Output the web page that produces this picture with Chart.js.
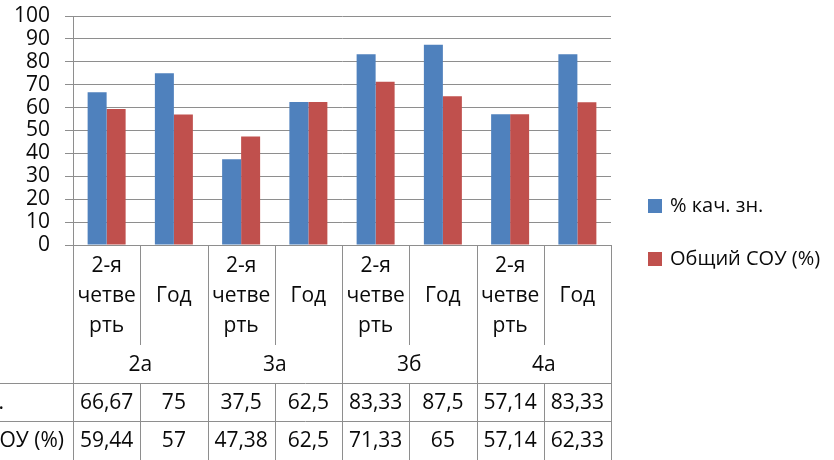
<!DOCTYPE html>
<html>
<head>
<meta charset="utf-8">
<script src="https://cdn.jsdelivr.net/npm/chart.js@4"></script>
<style>
html,body{margin:0;padding:0;background:#fff;}
#wrap{width:834px;height:460px;position:relative;}
</style>
</head>
<body>
<div id="wrap"><canvas id="c" width="834" height="460"></canvas></div>
<script>
// ---- data ----
const groups = ['2а', '3а', '3б', '4а'];
const periodLines = [['2-я', 'четве', 'рть'], ['Год']];
const seriesNames = ['% кач. зн.', 'Общий СОУ (%)'];
const quality = [66.67, 75, 37.5, 62.5, 83.33, 87.5, 57.14, 83.33];
const sou = [59.44, 57, 47.38, 62.5, 71.33, 65, 57.14, 62.33];
const yTicks = [0, 10, 20, 30, 40, 50, 60, 70, 80, 90, 100];

const colors = ['#4F81BD', '#C0504D'];
const FONT = '"Open Sans", "DejaVu Sans", sans-serif';
const TXT = '#0a0a0a';
const LINE = '#8e8e8e';

const categories = [];
groups.forEach(g => periodLines.forEach(p => categories.push(g + ' ' + p.join(''))));

const fmt = v => String(v).replace('.', ',');

const tablePlugin = {
  id: 'tablePlugin',
  afterDraw(chart) {
    const ctx = chart.ctx;
    const x = chart.scales.x;
    const area = chart.chartArea;
    const n = categories.length;
    const w = (area.right - area.left) / n;
    const edge = i => x.getPixelForValue(i) - w / 2;
    const top = area.bottom;
    const subEnd = top + 100;
    const hLine1 = top + 138;
    const hLine2 = top + 176;
    const bottom = 460;
    ctx.save();
    ctx.strokeStyle = LINE;
    ctx.lineWidth = 1;
    const line = (x1, y1, x2, y2) => {
      ctx.beginPath(); ctx.moveTo(x1, y1); ctx.lineTo(x2, y2); ctx.stroke();
    };
    for (let i = 0; i <= n; i++) {
      const px = Math.round(edge(i)) + 0.5;
      if (i % periodLines.length === 0) {
        line(px, top, px, bottom);
      } else {
        line(px, top, px, subEnd);
        line(px, hLine1, px, bottom);
      }
    }
    line(0, Math.round(hLine1) + 0.5, area.right, Math.round(hLine1) + 0.5);
    line(0, Math.round(hLine2) + 0.5, area.right, Math.round(hLine2) + 0.5);

    ctx.fillStyle = TXT;
    ctx.font = '21px ' + FONT;
    ctx.textAlign = 'center';
    ctx.textBaseline = 'middle';
    // period labels
    for (let i = 0; i < n; i++) {
      const cx = x.getPixelForValue(i);
      const lines = periodLines[i % periodLines.length];
      if (lines.length === 1) {
        ctx.fillText(lines[0], cx, top + 51);
      } else {
        lines.forEach((t, k) => ctx.fillText(t, cx, top + 21 + k * 30));
      }
    }
    // group labels
    groups.forEach((g, gi) => {
      const a = edge(gi * periodLines.length);
      const b = edge((gi + 1) * periodLines.length);
      ctx.fillText(g, (a + b) / 2, top + 120);
    });
    // values
    [quality, sou].forEach((arr, r) => {
      const yy = r === 0 ? top + 158 : top + 196;
      arr.forEach((v, i) => ctx.fillText(fmt(v), x.getPixelForValue(i), yy));
    });
    // row headers (clipped at left)
    ctx.textAlign = 'right';
    ctx.fillText(seriesNames[0], 4, top + 158);
    ctx.fillText(seriesNames[1], area.left - 9, top + 196);

    // legend
    ctx.font = '20px ' + FONT;
    ctx.textAlign = 'left';
    seriesNames.forEach((s, k) => {
      const cy = 206 + k * 53;
      ctx.fillStyle = colors[k];
      ctx.fillRect(648, cy - 7, 14, 14);
      ctx.fillStyle = TXT;
      ctx.fillText(s, 670, cy);
    });
    ctx.restore();
  }
};

new Chart(document.getElementById('c'), {
  type: 'bar',
  data: {
    labels: categories,
    datasets: [
      { label: seriesNames[0], data: quality, backgroundColor: colors[0] },
      { label: seriesNames[1], data: sou, backgroundColor: colors[1] }
    ]
  },
  options: {
    responsive: false,
    animation: false,
    events: [],
    layout: { padding: { left: 0, top: 16, right: 223, bottom: 215 } },
    plugins: { legend: { display: false }, tooltip: { enabled: false } },
    datasets: { bar: { categoryPercentage: 0.565, barPercentage: 1 } },
    scales: {
      x: { display: false },
      y: {
        min: 0, max: 100,
        afterBuildTicks(scale) { scale.ticks = yTicks.map(v => ({ value: v })); },
        afterFit(scale) { scale.width = 73; scale.paddingTop = 0; scale.paddingBottom = 0; },
        ticks: { color: TXT, font: { family: FONT, size: 21 }, padding: 15, autoSkip: false },
        grid: { color: LINE, tickLength: 8, drawTicks: true },
        border: { display: true, color: LINE }
      }
    }
  },
  plugins: [tablePlugin]
});
</script>
</body>
</html>
